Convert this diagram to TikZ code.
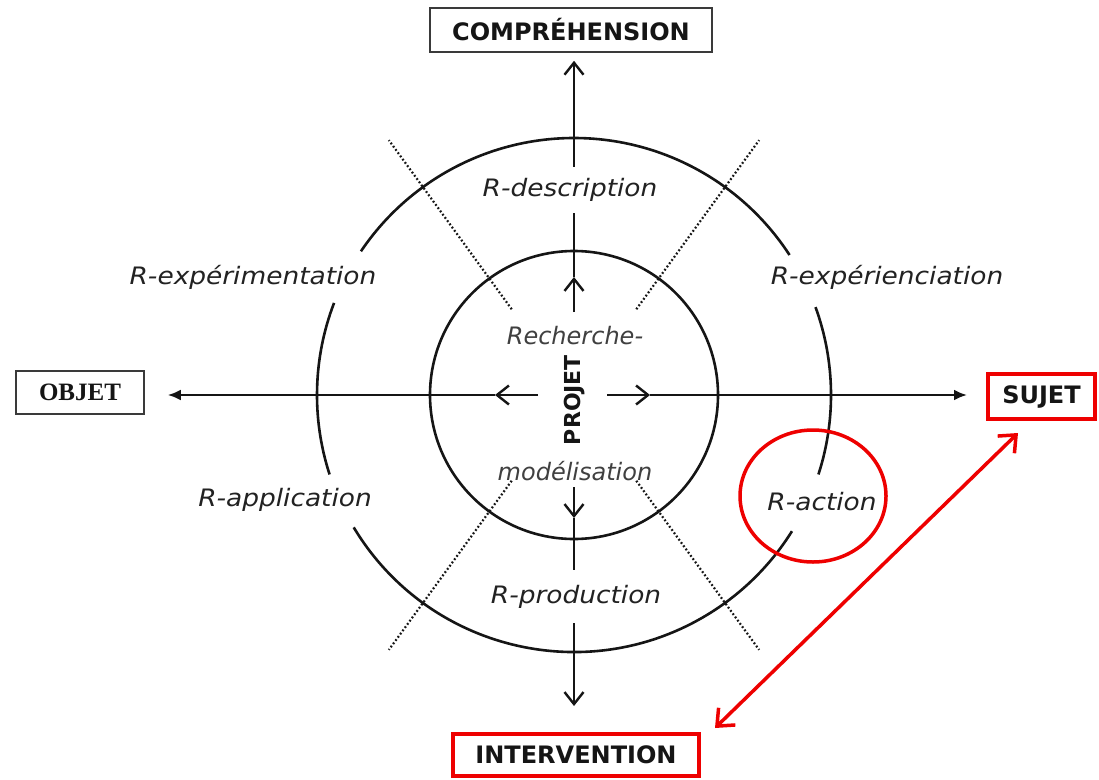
\documentclass[tikz,border=0pt]{standalone}
\usepackage{fontspec}
\setmainfont{DejaVu Sans}
\newfontfamily\objfont{Liberation Serif}
\newfontfamily\labfont[FakeStretch=1.1]{DejaVu Sans Oblique}
\usetikzlibrary{arrows.meta,shapes.geometric,calc}
\definecolor{ink}{HTML}{151515}
\definecolor{lbl}{HTML}{222222}
\definecolor{soft}{HTML}{404040}
\definecolor{boxgray}{HTML}{3A3A3A}
\definecolor{alert}{HTML}{EE0000}
\tikzset{
  axisline/.style={line width=2.4pt, draw=ink},
  openhead/.style={axisline, -{Straight Barb[length=12pt,width=19pt]}},
  fullhead/.style={axisline, -{Latex[length=13pt,width=11pt]}},
  ringline/.style={line width=2.6pt, draw=ink},
  dotline/.style={line width=2.2pt, draw=ink, dash pattern=on 1.8pt off 2.2pt},
  lab/.style={font=\fontsize{24}{28}\selectfont\labfont, text=lbl, inner sep=0pt},
  corelab/.style={font=\fontsize{24}{28}\selectfont\itshape, text=soft, inner sep=0pt},
  gaplab/.style={lab, fill=white, inner xsep=3pt},
  graybox/.style={draw=boxgray, line width=1.6pt, inner sep=0pt, font=\fontsize{24}{28}\selectfont\bfseries, text=ink},
  redbox/.style={draw=alert, line width=4pt, inner sep=0pt, font=\fontsize{24}{28}\selectfont\bfseries, text=ink},
  redarrow/.style={draw=alert, line width=3.5pt, {Straight Barb[length=14pt,width=24pt]}-{Straight Barb[length=14pt,width=24pt]}},
}
\begin{document}
\begin{tikzpicture}[x=1pt,y=-1pt]
\useasboundingbox[fill=white] (0,0) rectangle (1099,779);

\coordinate (c) at (574,395);

% boxes
\node[graybox, minimum width=282pt, minimum height=44pt] (comp) at (571,30) {COMPRÉHENSION};
\node[redbox, minimum width=246pt, minimum height=42pt] (interv) at (576,755) {INTERVENTION};
\node[graybox, minimum width=128pt, minimum height=43pt, font=\fontsize{25}{28}\selectfont\objfont\bfseries] (objet) at (80,392.5) {OBJET};
\node[redbox, minimum width=107pt, minimum height=45pt] (sujet) at (1041.5,396.5) {SUJET};

% inner circle
\node[circle, ringline, minimum size=288pt, inner sep=0pt] (inner) at (c) {};

% outer arcs
\draw[ringline] ($(c)+(-33:257)$) arc[start angle=-33, end angle=-146, radius=257];
\draw[ringline] ($(c)+(-159:257)$) arc[start angle=-159, end angle=-198, radius=257];
\draw[ringline] ($(c)+(-211:257)$) arc[start angle=-211, end angle=-328, radius=257];
\draw[ringline] ($(c)+(-20:257)$) arc[start angle=-20, end angle=18, radius=257];

% dotted separators
\foreach \a in {54,126,234,306}{
  \draw[dotline] ($(c)+(\a:106)$) -- ($(c)+(\a:315)$);
}

% axes
\coordinate (up0) at (574,312);
\coordinate (up1) at (574,277);
\coordinate (dn0) at (574,487);
\coordinate (dn1) at (574,518);
\coordinate (lf0) at (538,395);
\coordinate (lf1) at (495,395);
\coordinate (rt0) at (607,395);
\coordinate (rt1) at (650,395);

\draw[openhead] (up0) -- (up1);
\draw[openhead, shorten >=8pt] (up1) -- (up1 |- comp.south);
\draw[openhead] (dn0) -- (dn1);
\draw[openhead, shorten >=26pt] (dn1) -- (dn1 |- interv.north);
\draw[openhead] (lf0) -- (lf1);
\draw[fullhead, shorten >=23pt] (lf1) -- (lf1 -| objet.east);
\draw[openhead] (rt0) -- (rt1);
\draw[fullhead, shorten >=19pt] (rt1) -- (rt1 -| sujet.west);

% labels
\node[gaplab, minimum height=46pt] (rdesc) at (570,190) {R-description};
\node[gaplab, minimum height=53pt] (rprod) at (576,596.5) {R-production};
\node[lab] (rexpm) at (253,277) {R-expérimentation};
\node[lab] (rexpc) at (887,277) {R-expérienciation};
\node[lab] (rappl) at (285,500) {R-application};
\node[lab] (ract) at (822,502) {R-action};
\node[corelab] (rech) at (575,336) {Recherche-};
\node[corelab] (model) at (575,471) {modélisation};
\node[rotate=90, inner sep=0pt, text=ink, font=\fontsize{22}{22}\selectfont\bfseries] (projet) at (575,400) {PROJET};

% highlight
\node[ellipse, draw=alert, line width=3.5pt, minimum width=146pt, minimum height=132pt, inner sep=0pt] (ring) at (813,496) {};
\coordinate (ra) at (1018,433);
\coordinate (rb) at (715,728);
\draw[redarrow] (rb) -- (ra);
\end{tikzpicture}
\end{document}
